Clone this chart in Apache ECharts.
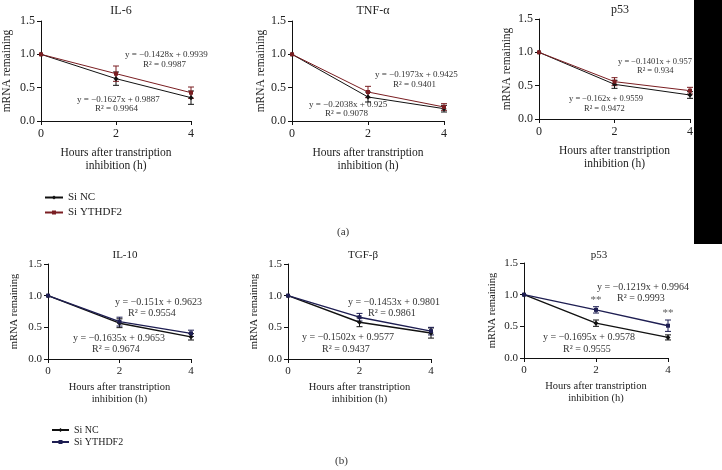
<!DOCTYPE html>
<html>
<head>
<meta charset="utf-8">
<script src="https://cdn.jsdelivr.net/npm/echarts@6.0.0/dist/echarts.min.js"></script>
<style>
  html, body { margin: 0; padding: 0; background: #fff; }
  #chart { width: 722px; height: 470px; }
</style>
</head>
<body>
<div id="chart"></div>
<script>
// hours after transcription inhibition
var hours = [0, 2, 4];

// (a) knockdown
var il6NC = [1.0, 0.635, 0.35], il6NCErr = [0, 0.10, 0.10];
var il6KD = [1.0, 0.71, 0.425], il6KDErr = [0, 0.115, 0.085];
var tnfNC = [1.0, 0.36, 0.185], tnfNCErr = [0, 0.075, 0.05];
var tnfKD = [1.0, 0.435, 0.21], tnfKDErr = [0, 0.085, 0.05];
var p53aNC = [1.0, 0.52, 0.36], p53aNCErr = [0, 0.06, 0.05];
var p53aKD = [1.0, 0.56, 0.425], p53aKDErr = [0, 0.06, 0.05];

// (b)
var il10NC = [1.0, 0.565, 0.35], il10NCErr = [0, 0.07, 0.05];
var il10KD = [1.0, 0.59, 0.405], il10KDErr = [0, 0.07, 0.05];
var tgfNC = [1.0, 0.58, 0.41], tgfNCErr = [0, 0.07, 0.08];
var tgfKD = [1.0, 0.66, 0.44], tgfKDErr = [0, 0.06, 0.06];
var p53bNC = [1.0, 0.55, 0.325], p53bNCErr = [0, 0.05, 0.04];
var p53bKD = [1.0, 0.76, 0.51], p53bKDErr = [0, 0.05, 0.09];
var p53bStars = [2, 4];

// fitted equations: upper line first, lower line second
var eqIL6 = ['y = \u22120.1428x + 0.9939', 'R\u00b2 = 0.9987', 'y = \u22120.1627x + 0.9887', 'R\u00b2 = 0.9964'];
var eqTNF = ['y = \u22120.1973x + 0.9425', 'R\u00b2 = 0.9401', 'y = \u22120.2038x + 0.925', 'R\u00b2 = 0.9078'];
var eqP53a = ['y = \u22120.1401x + 0.957', 'R\u00b2 = 0.934', 'y = \u22120.162x + 0.9559', 'R\u00b2 = 0.9472'];
var eqIL10 = ['y = \u22120.151x + 0.9623', 'R\u00b2 = 0.9554', 'y = \u22120.1635x + 0.9653', 'R\u00b2 = 0.9674'];
var eqTGF = ['y = \u22120.1453x + 0.9801', 'R\u00b2 = 0.9861', 'y = \u22120.1502x + 0.9577', 'R\u00b2 = 0.9437'];
var eqP53b = ['y = \u22120.1219x + 0.9964', 'R\u00b2 = 0.9993', 'y = \u22120.1695x + 0.9578', 'R\u00b2 = 0.9555'];

var FONT = "'Liberation Serif', 'DejaVu Serif', serif";
var RED = '#7a1e22', NAVY = '#1e1e52';

var panels = [
  {title: 'IL-6', tx: 116, ty: 7, grid: {left: 41, top: 21, width: 150, height: 100}, gapY: 28, nc: il6NC, ncErr: il6NCErr, kd: il6KD, kdErr: il6KDErr, kdColor: RED, kdName: 'Si YTHDF2', eq: eqIL6, eqFs: 9, eqPos: [[125, 55], [143, 65], [77, 100], [95, 109]], big: true},
  {title: 'TNF-\u03b1', tx: 368, ty: 7, grid: {left: 292, top: 21, width: 152, height: 100}, gapY: 25, nc: tnfNC, ncErr: tnfNCErr, kd: tnfKD, kdErr: tnfKDErr, kdColor: RED, kdName: 'Si YTHDF2', eq: eqTNF, eqFs: 9, eqPos: [[375, 75], [393, 85], [309, 105], [325, 114]], big: true},
  {title: 'p53', tx: 615, ty: 6, grid: {left: 539, top: 19, width: 151, height: 100}, gapY: 26, nc: p53aNC, ncErr: p53aNCErr, kd: p53aKD, kdErr: p53aKDErr, kdColor: RED, kdName: 'Si YTHDF2', eq: eqP53a, eqFs: 8.5, eqPos: [[618, 62], [637, 71], [569, 99], [584, 109]], big: true},
  {title: 'IL-10', tx: 120, ty: 252, grid: {left: 48, top: 264, width: 143, height: 95}, gapY: 28, nc: il10NC, ncErr: il10NCErr, kd: il10KD, kdErr: il10KDErr, kdColor: NAVY, kdName: 'Si YTHDF2 ', eq: eqIL10, eqFs: 10, eqPos: [[115, 302], [128, 313], [73, 338], [92, 349]], big: false},
  {title: 'TGF-\u03b2', tx: 358, ty: 252, grid: {left: 288, top: 264, width: 143, height: 95}, gapY: 28, nc: tgfNC, ncErr: tgfNCErr, kd: tgfKD, kdErr: tgfKDErr, kdColor: NAVY, kdName: 'Si YTHDF2 ', eq: eqTGF, eqFs: 10, eqPos: [[348, 302], [368, 313], [302, 337], [322, 349]], big: false},
  {title: 'p53', tx: 594, ty: 252, grid: {left: 524, top: 263, width: 144, height: 95}, gapY: 26, nc: p53bNC, ncErr: p53bNCErr, kd: p53bKD, kdErr: p53bKDErr, kdColor: NAVY, kdName: 'Si YTHDF2 ', eq: eqP53b, eqFs: 10, eqPos: [[597, 287], [617, 298], [543, 337], [563, 349]], big: false, stars: p53bStars}
];

function pairs(xs, ys) {
  return xs.map(function (x, i) { return [x, ys[i]]; });
}

function errorBars(idx, ys, errs, color) {
  return {
    type: 'custom',
    xAxisIndex: idx,
    yAxisIndex: idx,
    silent: true,
    z: 3,
    data: hours.map(function (x, i) { return [x, ys[i] - errs[i], ys[i] + errs[i]]; }).filter(function (d, i) { return errs[i] > 0; }),
    renderItem: function (params, api) {
      var lo = api.coord([api.value(0), api.value(1)]);
      var hi = api.coord([api.value(0), api.value(2)]);
      var w = 3;
      var st = {stroke: color, lineWidth: 1};
      return {
        type: 'group',
        children: [
          {type: 'line', shape: {x1: lo[0], y1: lo[1], x2: hi[0], y2: hi[1]}, style: st},
          {type: 'line', shape: {x1: lo[0] - w, y1: lo[1], x2: lo[0] + w, y2: lo[1]}, style: st},
          {type: 'line', shape: {x1: hi[0] - w, y1: hi[1], x2: hi[0] + w, y2: hi[1]}, style: st}
        ]
      };
    }
  };
}

var grids = [], xAxes = [], yAxes = [], series = [], titles = [], graphics = [];

panels.forEach(function (p, idx) {
  var fs = p.big ? 12 : 11;
  var nameFs = p.big ? 11.5 : 10.5;
  grids.push(p.grid);
  titles.push({
    text: p.title, left: p.tx, top: p.ty - 7, textAlign: 'center',
    textStyle: {fontFamily: FONT, fontSize: p.big ? 12 : 11, fontWeight: 'normal', color: '#222'}
  });
  xAxes.push({
    gridIndex: idx, type: 'value', min: 0, max: 4, interval: 2,
    axisLine: {lineStyle: {color: '#111', width: 1}},
    axisTick: {show: true, length: 4, lineStyle: {color: '#111'}},
    splitLine: {show: false},
    axisLabel: {fontFamily: FONT, fontSize: fs, color: '#222', margin: 7},
    name: 'Hours after transtription\ninhibition (h)',
    nameLocation: 'middle', nameGap: p.big ? 25 : 22,
    nameTextStyle: {fontFamily: FONT, fontSize: nameFs, color: '#222', lineHeight: p.big ? 13 : 12}
  });
  yAxes.push({
    gridIndex: idx, type: 'value', min: 0, max: 1.5, interval: 0.5,
    axisLine: {show: true, lineStyle: {color: '#111', width: 1}},
    axisTick: {show: true, length: 4, lineStyle: {color: '#111'}},
    splitLine: {show: false},
    axisLabel: {fontFamily: FONT, fontSize: fs, color: '#222', margin: 6,
      formatter: function (v) { return v.toFixed(1); }},
    name: 'mRNA remaining', nameLocation: 'middle', nameGap: p.gapY,
    nameTextStyle: {fontFamily: FONT, fontSize: nameFs, color: '#222'}
  });

  var lw = p.big ? 1 : 1.4;
  series.push({
    name: 'Si NC', type: 'line', xAxisIndex: idx, yAxisIndex: idx,
    data: pairs(hours, p.nc), symbol: 'diamond', symbolSize: 5,
    lineStyle: {color: '#111', width: lw}, itemStyle: {color: '#111'}, z: 4
  });
  series.push({
    name: p.kdName, type: 'line', xAxisIndex: idx, yAxisIndex: idx,
    data: pairs(hours, p.kd), symbol: 'rect', symbolSize: 4,
    lineStyle: {color: p.kdColor, width: lw}, itemStyle: {color: p.kdColor}, z: 4
  });
  series.push(errorBars(idx, p.nc, p.ncErr, '#111'));
  series.push(errorBars(idx, p.kd, p.kdErr, p.kdColor));

  if (p.stars) {
    series.push({
      type: 'scatter', xAxisIndex: idx, yAxisIndex: idx, silent: true,
      symbolSize: 0,
      data: p.stars.map(function (x) {
        var i = hours.indexOf(x);
        return [x, p.kd[i] + p.kdErr[i]];
      }),
      label: {show: true, position: 'top', distance: 1, formatter: '**',
        fontFamily: FONT, fontSize: 11, color: '#333'}
    });
  }

  p.eq.forEach(function (t, k) {
    graphics.push({
      type: 'text', left: p.eqPos[k][0], top: p.eqPos[k][1] - 5,
      style: {text: t, fontFamily: FONT, fontSize: p.eqFs, fill: '#333'}
    });
  });
});

graphics.push({type: 'rect', shape: {x: 694, y: 0, width: 28, height: 244}, style: {fill: '#000'}});
graphics.push({type: 'text', left: 337, top: 227, style: {text: '(a)', fontFamily: FONT, fontSize: 11, fill: '#333'}});
graphics.push({type: 'text', left: 335, top: 456, style: {text: '(b)', fontFamily: FONT, fontSize: 11, fill: '#333'}});

var myChart = echarts.init(document.getElementById('chart'));
myChart.setOption({
  backgroundColor: '#fff',
  animation: false,
  title: titles,
  grid: grids,
  xAxis: xAxes,
  yAxis: yAxes,
  legend: [{
    data: ['Si NC', 'Si YTHDF2'], orient: 'vertical', left: 39, top: 187,
    itemWidth: 18, itemHeight: 5, itemGap: 4,
    textStyle: {fontFamily: FONT, fontSize: 11, color: '#222'},
    selectedMode: false
  }, {
    data: ['Si NC', 'Si YTHDF2 '], orient: 'vertical', left: 46, top: 420,
    itemWidth: 17, itemHeight: 5, itemGap: 2,
    textStyle: {fontFamily: FONT, fontSize: 10, color: '#222'},
    formatter: function (name) { return name.trim(); },
    selectedMode: false
  }],
  graphic: graphics,
  series: series
});
</script>
</body>
</html>
